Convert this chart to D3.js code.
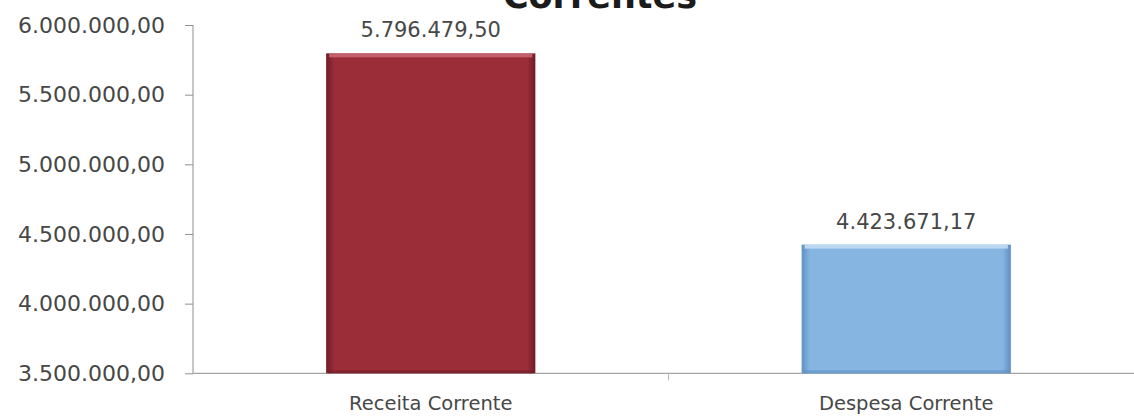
<!DOCTYPE html>
<html>
<head>
<meta charset="utf-8">
<script src="https://cdn.jsdelivr.net/npm/d3@7"></script>
<style>
  html, body { margin: 0; padding: 0; background: #ffffff; }
  svg { display: block; }
  text { font-family: "DejaVu Sans", "Noto Sans", sans-serif; }
</style>
</head>
<body>
<svg id="chart" width="1134" height="417"></svg>
<script>
// Receitas e despesas correntes
const categories = ["Receita Corrente", "Despesa Corrente"];
const values = [5796479.50, 4423671.17];
const yTicks = [3500000, 4000000, 4500000, 5000000, 5500000, 6000000];
const titleText = "Correntes";

const W = 1134, H = 417;
const plot = { left: 193, right: 1144, top: 25, bottom: 373.3 };

const svg = d3.select("#chart");

const ptBR = d3.formatLocale({ decimal: ",", thousands: ".", grouping: [3], currency: ["R$ ", ""] });
const fmt = ptBR.format(",.2f");

const x = d3.scaleBand().domain(categories).range([plot.left, plot.right]).padding(0);
const y = d3.scaleLinear().domain([3500000, 6000000]).range([plot.bottom, plot.top]);

// gradients for the bevelled bars
const defs = svg.append("defs");
const palettes = [
  { id: "gRed", edge: "#6f1c25", mid: "#9b2d39", top: "#c96a76" },
  { id: "gBlue", edge: "#5f8fc4", mid: "#86b5e1", top: "#c6def3" }
];
palettes.forEach(p => {
  const g = defs.append("linearGradient").attr("id", p.id).attr("x1", 0).attr("x2", 1).attr("y1", 0).attr("y2", 0);
  g.append("stop").attr("offset", "0%").attr("stop-color", p.edge);
  g.append("stop").attr("offset", "4%").attr("stop-color", p.mid);
  g.append("stop").attr("offset", "96%").attr("stop-color", p.mid);
  g.append("stop").attr("offset", "100%").attr("stop-color", p.edge);
});

// title (only the lower part of the text falls inside the page)
svg.append("text")
  .attr("x", 600).attr("y", 8)
  .attr("text-anchor", "middle")
  .attr("font-size", 35).attr("font-weight", "bold")
  .attr("fill", "#1b1b1b")
  .text(titleText);

// y axis
const yAxis = d3.axisLeft(y).tickValues(yTicks).tickFormat(fmt).tickSize(8).tickPadding(20);
const gy = svg.append("g").attr("transform", `translate(${plot.left},0)`).call(yAxis);
gy.select(".domain").attr("stroke", "#8f8f8f").attr("d", `M0,${plot.top}V${plot.bottom}`);
gy.selectAll(".tick line").attr("stroke", "#8f8f8f");
gy.selectAll(".tick text")
  .attr("font-size", 22).attr("fill", "#474747");

// x axis baseline + category separators
const xAxisG = svg.append("g");
xAxisG.append("line")
  .attr("x1", plot.left).attr("x2", W)
  .attr("y1", y(3500000)).attr("y2", y(3500000))
  .attr("stroke", "#8f8f8f");
xAxisG.selectAll("line.sep")
  .data(categories.slice(1))
  .join("line").attr("class", "sep")
  .attr("x1", d => x(d)).attr("x2", d => x(d))
  .attr("y1", y(3500000)).attr("y2", y(3500000) + 7)
  .attr("stroke", "#b5b5b5");

// bars
const barFrac = 0.44;
const bw = x.bandwidth() * barFrac;
const data = categories.map((c, i) => ({ c, v: values[i], p: palettes[i] }));

const bars = svg.append("g").selectAll("g.bar").data(data).join("g").attr("class", "bar");
bars.append("rect")
  .attr("x", d => x(d.c) + (x.bandwidth() - bw) / 2)
  .attr("y", d => y(d.v))
  .attr("width", bw)
  .attr("height", d => y(3500000) - y(d.v))
  .attr("fill", d => `url(#${d.p.id})`);
// top highlight strip
bars.append("rect")
  .attr("x", d => x(d.c) + (x.bandwidth() - bw) / 2 + 3)
  .attr("y", d => y(d.v))
  .attr("width", bw - 6)
  .attr("height", 4)
  .attr("fill", d => d.p.top)
  .attr("opacity", 0.85);
// bottom shade
bars.append("rect")
  .attr("x", d => x(d.c) + (x.bandwidth() - bw) / 2 + 2)
  .attr("y", d => y(3500000) - 3)
  .attr("width", bw - 4)
  .attr("height", 3)
  .attr("fill", d => d.p.edge)
  .attr("opacity", 0.6);

// value labels
svg.append("g").selectAll("text").data(data).join("text")
  .attr("x", d => x(d.c) + x.bandwidth() / 2)
  .attr("y", d => y(d.v) - 16)
  .attr("text-anchor", "middle")
  .attr("font-size", 21).attr("fill", "#474747")
  .text(d => fmt(d.v));

// category labels
svg.append("g").selectAll("text").data(categories).join("text")
  .attr("x", d => x(d) + x.bandwidth() / 2)
  .attr("y", 410)
  .attr("text-anchor", "middle")
  .attr("font-size", 19.5).attr("fill", "#474747")
  .text(d => d);
</script>
</body>
</html>
